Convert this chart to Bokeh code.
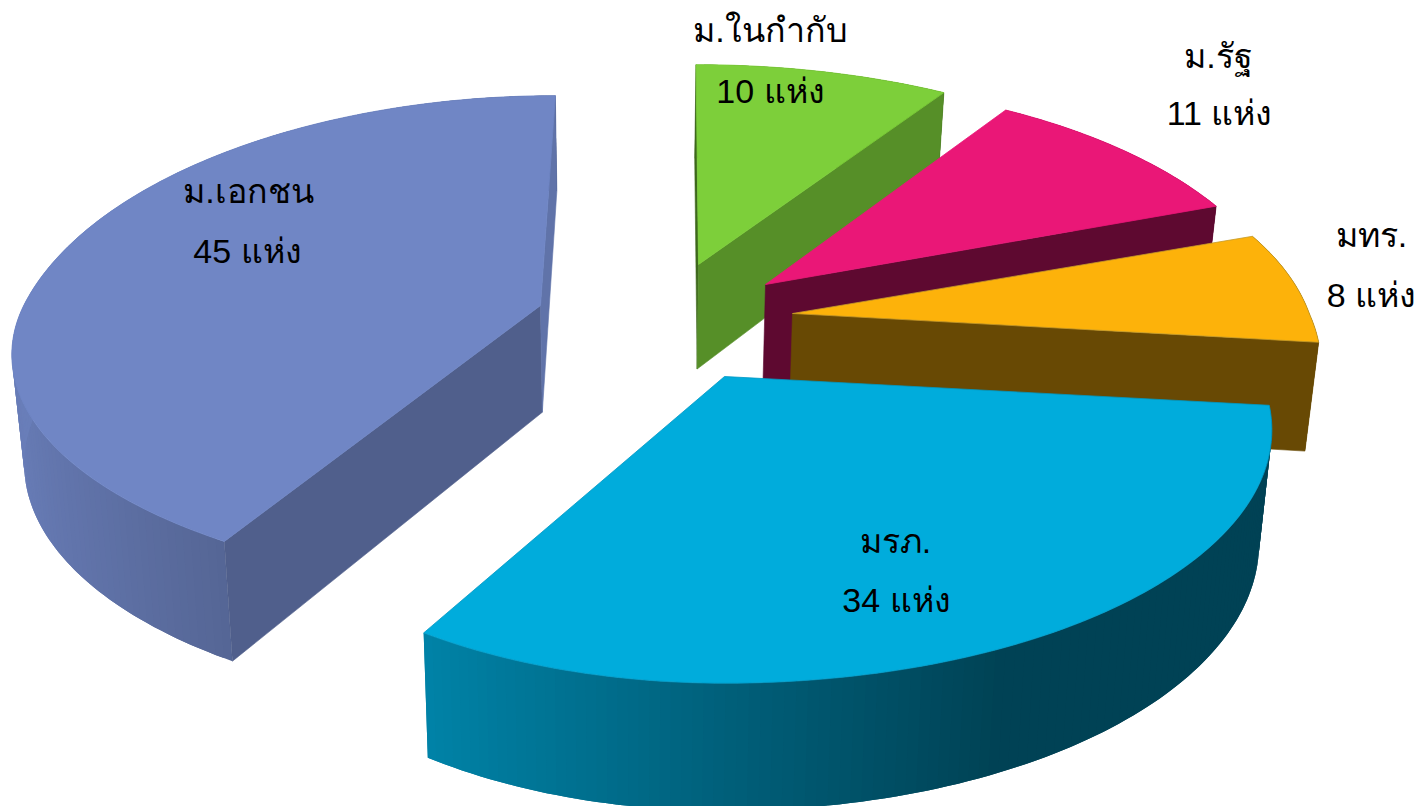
import numpy as np
from bokeh.core.properties import value
from bokeh.embed import file_html
from bokeh.models import Range1d
from bokeh.plotting import figure
from bokeh.resources import INLINE

# Data, in clockwise order from the top of the pie
categories = ["ม.ในกำกับ", "ม.รัฐ", "มทร.", "มรภ.", "ม.เอกชน"]
counts = [10, 11, 8, 34, 45]
count_labels = ["10 แห่ง", "11 แห่ง", "8 แห่ง", "34 แห่ง", "45 แห่ง"]

# Style and layout
top_colors = [(125, 207, 58), (234, 23, 119), (253, 178, 10), (0, 172, 220), (112, 134, 197)]
edge_colors = ["#7DCF3A", "#EA1777", "#C49A2A", "#0098C4", "#7086C5"]
start_shade = [0.50, 0.40, 0.41, 0.40, 0.71]
end_shade = [0.69, 0.40, 0.41, 0.40, 0.86]
pull_out = [(698, 264), (765, 284), (792, 313), (724, 376), (540, 305)]
scale_right = [1.015, 0.985, 0.99, 1.025, 1.0]
scale_left = [1.0, 1.0, 1.0, 0.942, 0.99]
scale_back = [1.0, 1.015, 1.0, 1.0, 1.05]
scale_front = [1.0, 1.0, 1.0, 1.0, 0.92]
lean_back = [-3, 0, 22, 0, 18]
name_pos = [(770, 29), (1218, 55), (1371, 234), (895, 540), (248, 190)]
count_pos = [(770, 90), (1219, 112), (1371, 294), (896, 599), (247, 250)]

RX, RY, PERSP = 522.0, 242.0, 0.211
VX = 630.0


def project(i, theta):
    X, Y = np.sin(theta), np.cos(theta)
    w = 1 + PERSP * Y
    ax, ay = pull_out[i]
    sx = np.where(X >= 0, scale_right[i], scale_left[i])
    sy = np.where(Y >= 0, scale_back[i], scale_front[i])
    lean = lean_back[i] * np.maximum(Y, 0)
    return ax + (RX * sx * X + lean) / w, ay - RY * sy * Y / w


def drop(x, y):
    return x + (VX - x) * 0.02, y + 90 + 0.055 * y


def rgb(c, s=1.0):
    return "#%02x%02x%02x" % tuple(int(round(v * s)) for v in c)


def shade(theta):
    return float(np.interp(np.sin(theta), [-1, -0.5, 0.42, 1], [0.94, 0.76, 0.385, 0.385]))


p = figure(width=1428, height=806, x_range=Range1d(0, 1428), y_range=Range1d(806, 0),
           toolbar_location=None, output_backend="svg", min_border=0,
           outline_line_color=None)
p.axis.visible = False
p.grid.visible = False

fractions = np.array(counts, dtype=float) / sum(counts)
edges = np.concatenate([[0], np.cumsum(fractions)]) * 2 * np.pi

for i in range(len(counts)):
    t0, t1 = edges[i], edges[i + 1]
    thetas = np.linspace(t0, t1, max(4, int(np.degrees(t1 - t0) / 1.0) + 1))
    px, py = project(i, thetas)
    bx, by = drop(px, py)

    # curved rim, as overlapping narrow strips that carry the shading
    xs, ys, cols = [], [], []
    n = len(thetas)
    for k in range(n - 1):
        e = min(k + 2, n - 1)
        m = k + 1
        xs.append([px[k], px[m], px[e], bx[e], bx[m], bx[k]])
        ys.append([py[k], py[m], py[e], by[e], by[m], by[k]])
        cols.append(rgb(top_colors[i], shade((thetas[k] + thetas[m]) / 2)))
    p.patches(xs, ys, fill_color=cols, line_color=None)

    # flat cut faces that look towards the viewer
    ax, ay = pull_out[i]
    abx, aby = drop(ax, ay)
    for normal, s, (cx, cy) in (
        (t0 - np.pi / 2, start_shade[i], (px[0], py[0])),
        (t1 + np.pi / 2, end_shade[i], (px[-1], py[-1])),
    ):
        if np.cos(normal) < 0.1:
            dx, dy = drop(cx, cy)
            col = rgb(top_colors[i], s)
            p.patch([ax, cx, dx, abx], [ay, cy, dy, aby], fill_color=col, line_color=col, line_width=0.6)

    # top face
    p.patch(np.concatenate([[ax], px]), np.concatenate([[ay], py]),
            fill_color=rgb(top_colors[i]), line_color=edge_colors[i], line_width=0.8)

font = value("Liberation Sans")
p.text([q[0] for q in name_pos], [q[1] for q in name_pos], text=categories, text_font=font,
       text_font_size="34px", text_align="center", text_baseline="middle", text_color="#000000")
p.text([q[0] for q in count_pos], [q[1] for q in count_pos], text=count_labels, text_font=font,
       text_font_size="34px", text_align="center", text_baseline="middle", text_color="#000000")

open("out.html", "w").write(file_html(p, INLINE))
